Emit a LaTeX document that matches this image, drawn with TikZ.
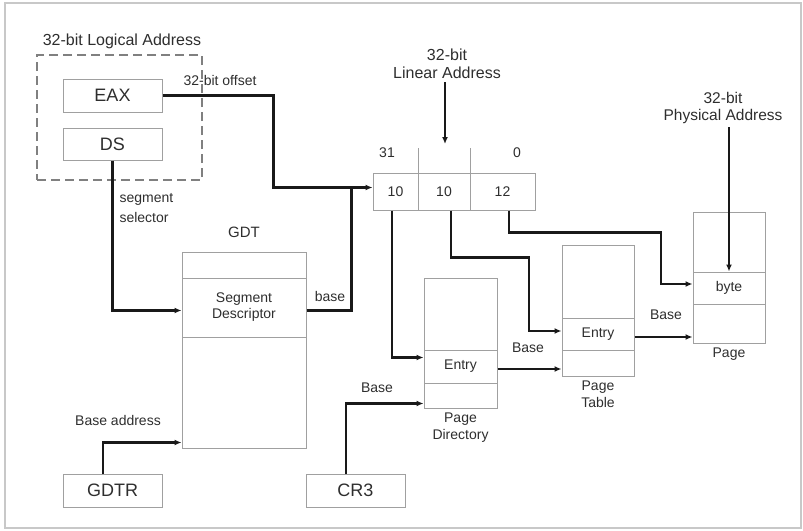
\documentclass[tikz,border=0pt]{standalone}
\usepackage{fontspec}
\setmainfont{Liberation Sans}
\usetikzlibrary{arrows.meta,positioning}
\definecolor{txtgray}{HTML}{2E2E2E}
\definecolor{boxgray}{HTML}{A0A0A0}
\definecolor{framegray}{HTML}{C8C8C8}
\begin{document}
\begin{tikzpicture}[x=1pt, y=-1pt, >={Latex[length=7pt,width=6pt]},
    every node/.style={text=txtgray, font=\fontsize{14}{17}\selectfont},
    box/.style={draw=boxgray, line width=1pt, inner sep=0pt},
    reg/.style={box, minimum width=99pt, minimum height=33pt, font=\fontsize{18}{20}\selectfont},
    arr/.style={->, line width=2.3pt, draw=black!90},
    wire/.style={line width=2.3pt, draw=black!90}]
        \useasboundingbox (0,0) rectangle (803,530);
        \draw[framegray, line width=2pt] (5,3) rectangle (801,528);

        \node[font=\fontsize{16}{18}\selectfont] (logical_lbl) at (122,41) {32-bit Logical Address};
        \node[box, draw=gray, line width=1.4pt, dash pattern=on 9pt off 5pt,
              minimum width=165pt, minimum height=125pt] (logical_box) at (119.5,117.5) {};
        \node[reg] (eax_box) at (112.5,95.5) {EAX};
        \node[reg, minimum height=32pt] (ds_box) at (112.5,144) {DS};
        \node (offset_lbl) at (220,80) {32-bit offset};
        \node[anchor=north west, align=left, font=\fontsize{14}{20}\selectfont] (selector_lbl) at (116,190) {segment\\selector};

        \node[box, minimum width=124pt, minimum height=196pt] (gdt_box) at (244,350) {};
        \node[box, minimum width=124pt, minimum height=59pt, align=center, font=\fontsize{14}{16}\selectfont]
            (gdt_entry) at (244,307.5) {Segment\\Descriptor};
        \node[above=10pt of gdt_box, font=\fontsize{15}{17}\selectfont] (gdt_lbl) {GDT};
        \node (base_lbl) at (330,296) {base};

        \node[reg] (gdtr_box) at (112.5,490.5) {GDTR};
        \node (gdtr_base_lbl) at (118,420) {Base address};
        \node[reg] (cr3_box) at (355.5,490.5) {CR3};
        \node (cr3_base_lbl) at (377,388) {Base};

        \node[box, minimum width=45pt, minimum height=37pt] (lin_a) at (395.5,191.5) {10};
        \node[box, minimum width=52pt, minimum height=37pt] (lin_b) at (444,191.5) {10};
        \node[box, minimum width=65pt, minimum height=37pt] (lin_c) at (502.5,191.5) {12};
        \draw[boxgray, line width=1pt] (lin_a.south east) -- ++(0,-63);
        \draw[boxgray, line width=1pt] (lin_b.south east) -- ++(0,-63);
        \node (bit_hi) at (387,153) {31};
        \node (bit_lo) at (517,153) {0};
        \node[align=center, font=\fontsize{16}{18}\selectfont] (linear_lbl) at (447,64) {32-bit\\Linear Address};
        \coordinate (lin_top) at (445,144);

        \node[box, minimum width=73pt, minimum height=130pt] (pd_box) at (460.5,343) {};
        \node[box, minimum width=73pt, minimum height=33pt] (pd_entry) at (460.5,366.5) {Entry};
        \node[below=1pt of pd_box, align=center] (pd_lbl) {Page\\Directory};
        \node (pd_base_lbl) at (528,348) {Base};

        \node[box, minimum width=72pt, minimum height=131pt] (pt_box) at (598,310.5) {};
        \node[box, minimum width=72pt, minimum height=32pt] (pt_entry) at (598,334) {Entry};
        \node[below=1pt of pt_box, align=center] (pt_lbl) {Page\\Table};
        \node (pt_base_lbl) at (666,315) {Base};

        \node[box, minimum width=72pt, minimum height=131pt] (page_box) at (729,277.5) {};
        \node[box, minimum width=72pt, minimum height=32pt] (byte_cell) at (729,288) {byte};
        \node[below=1pt of page_box] (page_lbl) {Page};
        \node[align=center, font=\fontsize{15.5}{17}\selectfont] (physical_lbl) at (723,108) {32-bit\\Physical Address};

        \draw[arr] (eax_box.east) -- ++(111,0) |- ([yshift=4pt]lin_a.west);
        \draw[arr] (ds_box.south) |- ([yshift=-3pt]gdt_entry.west);
        \draw[wire] ([yshift=-3pt]gdt_entry.east) -| ([xshift=-21pt,yshift=4pt]lin_a.west);
        \draw[arr] ([xshift=-9.5pt]gdtr_box.north) |- ([yshift=6pt]gdt_box.south west);
        \draw[arr] ([xshift=-9.5pt]cr3_box.north) |- ([yshift=5pt]pd_box.south west);
        \draw[arr] (lin_top |- linear_lbl.south) -- (lin_top);

        \draw[arr] ([xshift=-3.5pt]lin_a.south) |- ([yshift=9pt]pd_entry.west);
        \draw[arr] ([xshift=7pt]lin_b.south) |- ++(78,47) |- ([yshift=3pt]pt_entry.west);
        \draw[arr] ([xshift=6.5pt]lin_c.south) |- ++(152,22) |- ([yshift=4pt]byte_cell.west);

        \coordinate (pd_out) at ([yshift=-2.5pt]pd_entry.east);
        \coordinate (pt_out) at ([yshift=-3pt]pt_entry.east);
        \draw[arr] (pd_out) -- (pd_out -| pt_box.west);
        \draw[arr] (pt_out) -- (pt_out -| page_box.west);
        \draw[arr] (byte_cell.north |- physical_lbl.south) -- (byte_cell.north);
    \end{tikzpicture}
\end{document}
